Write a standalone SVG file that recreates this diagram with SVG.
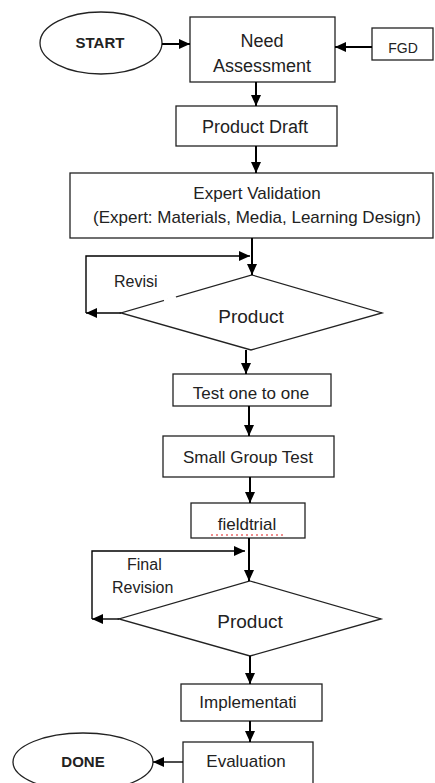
<svg xmlns="http://www.w3.org/2000/svg" width="435" height="783" viewBox="0 0 435 783">
  <style>
    .box { fill: #ffffff; stroke: #222222; stroke-width: 1.3; }
    .t { font-family: "Liberation Sans", Arial, sans-serif; font-size: 17px; fill: #222222; text-anchor: middle; }
    .b { font-weight: bold; font-size: 15px; }
    .lbl { font-family: "Liberation Sans", Arial, sans-serif; font-size: 16px; fill: #222222; }
    .c { fill: none; stroke: #000000; stroke-width: 2; }
    .thin { fill: none; stroke: #000000; stroke-width: 1.4; }
  </style>
  <defs>
    <marker id="ah" markerUnits="userSpaceOnUse" markerWidth="12" markerHeight="12" viewBox="0 0 12 12" refX="11" refY="6" orient="auto">
      <path d="M0,1 L11,6 L0,11 Z" fill="#000000"/>
    </marker>
  </defs>
  <rect width="435" height="783" fill="#ffffff"/>

  <g id="start">
    <ellipse class="box" cx="101" cy="43" rx="61" ry="31"/>
    <text class="t b" x="100" y="48">START</text>
  </g>
  <g id="need">
    <rect class="box" x="190" y="17" width="145" height="65"/>
    <text class="t" x="262" y="47" style="font-size:18px">Need</text>
    <text class="t" x="262" y="72" style="font-size:18px">Assessment</text>
  </g>
  <g id="fgd">
    <rect class="box" x="372" y="28" width="61" height="32"/>
    <text class="t" x="403" y="53" style="font-size:14px">FGD</text>
  </g>
  <g id="draft">
    <rect class="box" x="176" y="106" width="161" height="40"/>
    <text class="t" x="255" y="133" style="font-size:18px">Product Draft</text>
  </g>
  <g id="expert">
    <rect class="box" x="70" y="173" width="363" height="65"/>
    <text class="t" x="257" y="199">Expert Validation</text>
    <text class="t" x="257" y="223">(Expert: Materials, Media, Learning Design)</text>
  </g>
  <g id="product1">
    <polygon class="box" points="252,275 382,313 251,350 121,313"/>
    <line x1="164" y1="300.6" x2="176" y2="297.1" stroke="#ffffff" stroke-width="3"/>
    <text class="t" x="251" y="323" style="font-size:19px">Product</text>
  </g>
  <g id="test1">
    <rect class="box" x="173" y="374" width="158" height="32"/>
    <text class="t" x="251" y="399">Test one to one</text>
  </g>
  <g id="small">
    <rect class="box" x="163" y="436" width="171" height="41"/>
    <text class="t" x="248" y="463">Small Group Test</text>
  </g>
  <g id="field">
    <rect class="box" x="191" y="503" width="114" height="35"/>
    <text class="t" x="247" y="530">fieldtrial</text>
    <path d="M211,535 L284,535" stroke="#e02020" stroke-width="1.2" stroke-dasharray="2,3" fill="none"/>
  </g>
  <g id="product2">
    <polygon class="box" points="250,581 381,619 250,656 119,619"/>
    <text class="t" x="250" y="628" style="font-size:19px">Product</text>
  </g>
  <g id="impl">
    <rect class="box" x="181" y="684" width="141" height="37"/>
    <text class="t" x="248" y="708">Implementati</text>
  </g>
  <g id="eval">
    <rect class="box" x="183" y="742" width="130" height="50"/>
    <text class="t" x="246" y="767">Evaluation</text>
  </g>
  <g id="done">
    <ellipse class="box" cx="83" cy="762" rx="70" ry="29"/>
    <text class="t b" x="83" y="767">DONE</text>
  </g>

  <g id="labels">
    <text class="lbl" x="114" y="287">Revisi</text>
    <text class="lbl" x="127" y="570">Final</text>
    <text class="lbl" x="112" y="593">Revision</text>
  </g>

  <g id="connectors">
    <line class="c" x1="162" y1="44" x2="190" y2="44" marker-end="url(#ah)"/>
    <line class="c" x1="372" y1="47" x2="335" y2="47" marker-end="url(#ah)"/>
    <line class="c" x1="256" y1="82" x2="256" y2="106" marker-end="url(#ah)"/>
    <line class="c" x1="256" y1="146" x2="256" y2="173" marker-end="url(#ah)"/>
    <line class="c" x1="252" y1="238" x2="252" y2="275" marker-end="url(#ah)"/>
    <line class="thin" x1="121" y1="313" x2="86" y2="313" marker-end="url(#ah)"/>
    <polyline class="thin" points="86,313 86,256 250,256" marker-end="url(#ah)"/>
    <line class="c" x1="246" y1="350" x2="246" y2="374" marker-end="url(#ah)"/>
    <line class="c" x1="249" y1="406" x2="249" y2="436" marker-end="url(#ah)"/>
    <line class="c" x1="250" y1="477" x2="250" y2="503" marker-end="url(#ah)"/>
    <line class="c" x1="249" y1="538" x2="249" y2="581" marker-end="url(#ah)"/>
    <line class="thin" x1="119" y1="619" x2="92" y2="619" marker-end="url(#ah)"/>
    <polyline class="thin" points="92,619 92,551 245,551" marker-end="url(#ah)"/>
    <line class="c" x1="250" y1="656" x2="250" y2="684" marker-end="url(#ah)"/>
    <line class="c" x1="250" y1="721" x2="250" y2="742" marker-end="url(#ah)"/>
    <line class="thin" x1="183" y1="762" x2="153" y2="762" marker-end="url(#ah)"/>
  </g>
</svg>
